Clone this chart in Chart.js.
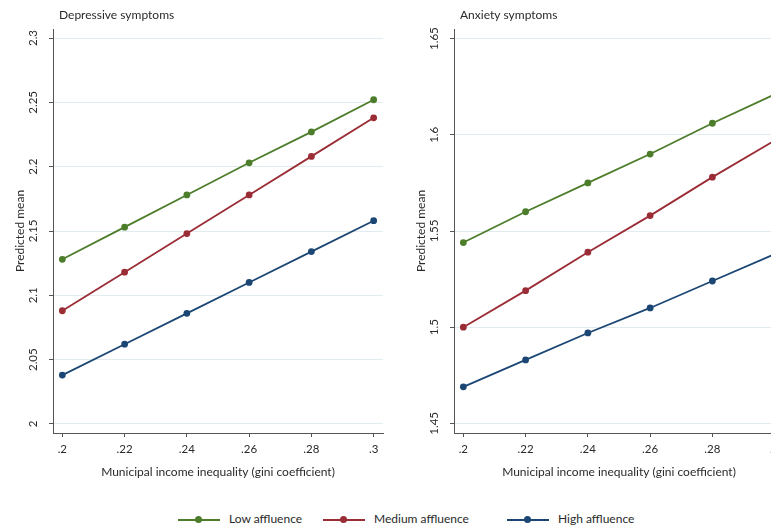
<!DOCTYPE html>
<html>
<head>
<meta charset="utf-8">
<script src="https://cdn.jsdelivr.net/npm/chart.js@4.4.0/dist/chart.umd.min.js"></script>
<style>
  html, body { margin: 0; padding: 0; background: #fff; }
  body { width: 771px; height: 531px; overflow: hidden; position: relative; font-family: Lato, "Open Sans", sans-serif; }
  .panel { position: absolute; top: 0; }
  #depPanel { left: 0; }
  #anxPanel { left: 401px; }
  .item { position: absolute; top: 511px; font-size: 12px; color: #2a2a2a; line-height: 16px; white-space: nowrap; }
  .item .sw { display: inline-block; position: relative; width: 42px; height: 2px; vertical-align: middle; margin-right: 9px; }
  .item .sw i { position: absolute; left: 17px; top: -3px; width: 7px; height: 7px; border-radius: 50%; background: inherit; }
</style>
</head>
<body>
<canvas id="depPanel" class="panel" width="390" height="490"></canvas>
<canvas id="anxPanel" class="panel" width="390" height="490"></canvas>

<div class="item" style="left:178px"><span class="sw" style="background:#4d7d2b"><i></i></span>Low affluence</div>
<div class="item" style="left:323px"><span class="sw" style="background:#9b2d36"><i></i></span>Medium affluence</div>
<div class="item" style="left:507px"><span class="sw" style="background:#1c4774"><i></i></span>High affluence</div>

<script>
// gini coefficient values (x)
const gini = [0.20, 0.22, 0.24, 0.26, 0.28, 0.30];
const xTicks = [0.20, 0.22, 0.24, 0.26, 0.28, 0.30];

// depressive symptoms, predicted mean
const depLow = [2.128, 2.153, 2.178, 2.203, 2.227, 2.252];
const depMedium = [2.088, 2.118, 2.148, 2.178, 2.208, 2.238];
const depHigh = [2.038, 2.062, 2.086, 2.110, 2.134, 2.158];
const depTicks = [2.00, 2.05, 2.10, 2.15, 2.20, 2.25, 2.30];

// anxiety symptoms, predicted mean
const anxLow = [1.544, 1.560, 1.575, 1.590, 1.606, 1.621];
const anxMedium = [1.500, 1.519, 1.539, 1.558, 1.578, 1.597];
const anxHigh = [1.469, 1.483, 1.497, 1.510, 1.524, 1.538];
const anxTicks = [1.45, 1.50, 1.55, 1.60, 1.65];

const seriesNames = ['Low affluence', 'Medium affluence', 'High affluence'];
const colors = ['#4d7d2b', '#9b2d36', '#1c4774'];

Chart.defaults.font.family = 'Lato, "Open Sans", sans-serif';
Chart.defaults.color = '#2a2a2a';

// panel heading drawn just right of the y axis, like the original
const panelTitle = {
  id: 'panelTitle',
  afterDraw(chart, args, opts) {
    const c = chart.ctx;
    c.save();
    c.font = '12px Lato, "Open Sans", sans-serif';
    c.fillStyle = '#2a2a2a';
    c.textBaseline = 'middle';
    c.textAlign = 'left';
    c.fillText(opts.text, chart.chartArea.left + 6, 15);
    c.restore();
  }
};

function fmtX(v) {
  return String(Number(v.toFixed(3))).replace(/^0/, '');
}

function makePanel(id, title, series, yTicks, yMin, yMax) {
  const ctx = document.getElementById(id).getContext('2d');
  return new Chart(ctx, {
    type: 'line',
    data: {
      datasets: series.map((vals, i) => ({
        label: seriesNames[i],
        data: gini.map((x, j) => ({ x: x, y: vals[j] })),
        borderColor: colors[i],
        backgroundColor: colors[i],
        borderWidth: 1.8,
        pointRadius: 2.5,
        pointHoverRadius: 2.5,
        tension: 0
      }))
    },
    options: {
      responsive: false,
      animation: false,
      layout: { padding: { top: 29, right: 7 } },
      plugins: {
        legend: { display: false },
        tooltip: { enabled: false },
        panelTitle: { text: title }
      },
      scales: {
        x: {
          type: 'linear',
          min: 0.197,
          max: 0.303,
          afterBuildTicks: s => { s.ticks = xTicks.map(v => ({ value: v })); },
          afterFit: s => { s.height = 57; },
          ticks: { callback: v => fmtX(v), font: { size: 11.5 }, padding: 5, maxRotation: 0, autoSkip: false },
          grid: { drawOnChartArea: false, tickLength: 4, tickColor: '#555' },
          border: { color: '#555', width: 1 },
          title: {
            display: true,
            text: 'Municipal income inequality (gini coefficient)',
            font: { size: 12 },
            padding: { top: 0, bottom: 11 }
          }
        },
        y: {
          min: yMin,
          max: yMax,
          afterBuildTicks: s => { s.ticks = yTicks.map(v => ({ value: v })); },
          afterFit: s => { s.width = 53; },
          ticks: {
            callback: v => String(Number(v.toFixed(3))),
            font: { size: 11.5 },
            minRotation: 90,
            maxRotation: 90,
            crossAlign: 'center',
            padding: 4
          },
          grid: { color: '#e2ebef', tickLength: 4, tickColor: '#555' },
          border: { color: '#555', width: 1 },
          title: { display: true, text: 'Predicted mean', font: { size: 12 }, padding: { top: 13 } }
        }
      }
    },
    plugins: [panelTitle]
  });
}

makePanel('depPanel', 'Depressive symptoms', [depLow, depMedium, depHigh], depTicks, 1.993, 2.307);
makePanel('anxPanel', 'Anxiety symptoms', [anxLow, anxMedium, anxHigh], anxTicks, 1.445, 1.655);
</script>
</body>
</html>
